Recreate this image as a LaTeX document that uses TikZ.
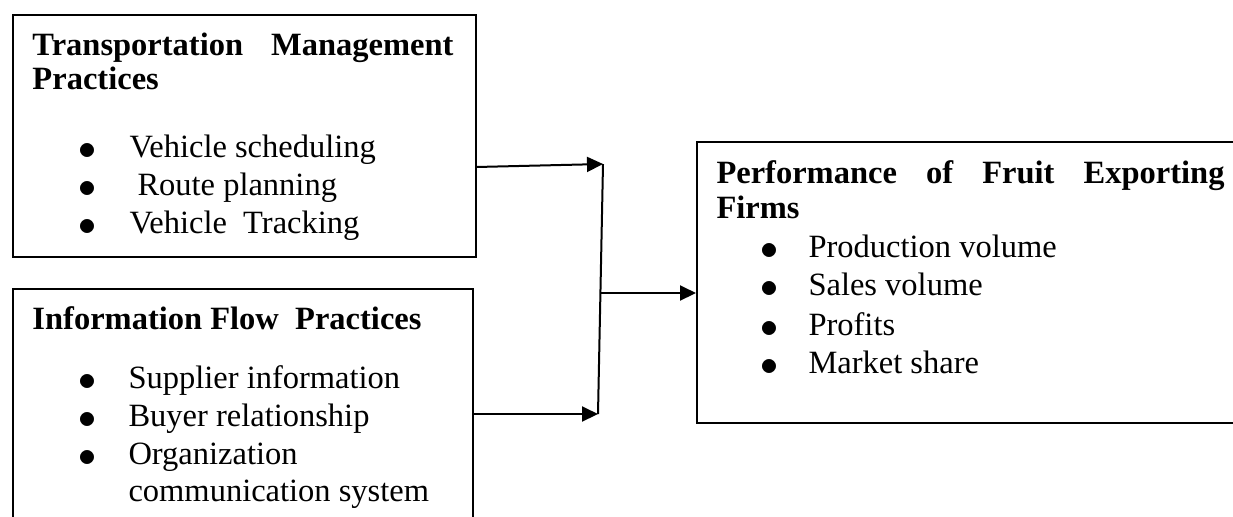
\documentclass[tikz,border=0pt]{standalone}
\usepackage{fontspec}
\setmainfont{Liberation Serif}
\usetikzlibrary{arrows.meta}

\begin{document}
\begin{tikzpicture}[x=0.4pt,y=-0.4pt,
    box/.style={draw,line width=0.8pt,anchor=north west,inner sep=0pt},
    txt/.style={anchor=base west,inner sep=0pt,font=\fontsize{13}{15}\selectfont},
    head/.style={txt,font=\fontsize{13}{15}\selectfont\bfseries},
    dot/.style={anchor=base,inner sep=0pt,yshift=-0.8pt,font=\fontsize{15}{15}\selectfont},
    link/.style={line width=0.8pt},
    >={Triangle[length=6.4pt,width=6pt]}]
    \useasboundingbox (0,0) rectangle (1233,516);
    \clip (0,0) rectangle (1233,516);

    %boxes
    \node[box,minimum width=185.2pt,minimum height=96.8pt] (trans) at (12,14) {};
    \node[box,minimum width=184pt,minimum height=104pt] (info) at (12,288) {};
    \node[box,minimum width=222pt,minimum height=112.4pt] (perf) at (696,141) {};

    %transportation practices
    \node[head] (transhead) at (32,55) {\makebox[168.4pt][s]{Transportation Management}};
    \node[head] (transhead2) at (32,89) {Practices};
    \node[dot] (tdot1) at (87,157) {$\bullet$};
    \node[dot] (tdot2) at (87,195) {$\bullet$};
    \node[dot] (tdot3) at (87,233) {$\bullet$};
    \node[txt] (sched) at (129,157) {Vehicle scheduling};
    \node[txt] (route) at (137,195) {Route planning};
    \node[txt] (track) at (129,233) {Vehicle\ \ Tracking};

    %information flow practices
    \node[head] (infohead) at (32,329) {Information Flow\ \ Practices};
    \node[dot] (idot1) at (87,388) {$\bullet$};
    \node[dot] (idot2) at (87,426) {$\bullet$};
    \node[dot] (idot3) at (87,464) {$\bullet$};
    \node[txt] (supp) at (128,388) {Supplier information};
    \node[txt] (buyer) at (128,426) {Buyer relationship};
    \node[txt] (org) at (128,464) {Organization};
    \node[txt] (comm) at (128,501) {communication system};

    %performance
    \node[head] (perfhead) at (716,183) {\makebox[203.2pt][s]{Performance of Fruit Exporting}};
    \node[head] (perfhead2) at (716,218) {Firms};
    \node[dot] (pdot1) at (769,257) {$\bullet$};
    \node[dot] (pdot2) at (769,295) {$\bullet$};
    \node[dot] (pdot3) at (769,335) {$\bullet$};
    \node[dot] (pdot4) at (769,373) {$\bullet$};
    \node[txt] (prod) at (808,257) {Production volume};
    \node[txt] (sales) at (808,295) {Sales volume};
    \node[txt] (profit) at (808,335) {Profits};
    \node[txt] (market) at (808,373) {Market share};

    %draw lines
    \coordinate (tout) at (476,167);
    \coordinate (iout) at (472,414);
    \coordinate (jtop) at (603,164);
    \coordinate (jbot) at (598,414);
    \coordinate (jmid) at (601,293);
    \draw [->,link] (tout) -- (jtop);
    \draw [->,link] (iout) -- (jbot);
    \draw [-,link] (jtop) -- (jbot);
    \draw [->,link] (jmid) -- (jmid -| perf.west);
\end{tikzpicture}
\end{document}
